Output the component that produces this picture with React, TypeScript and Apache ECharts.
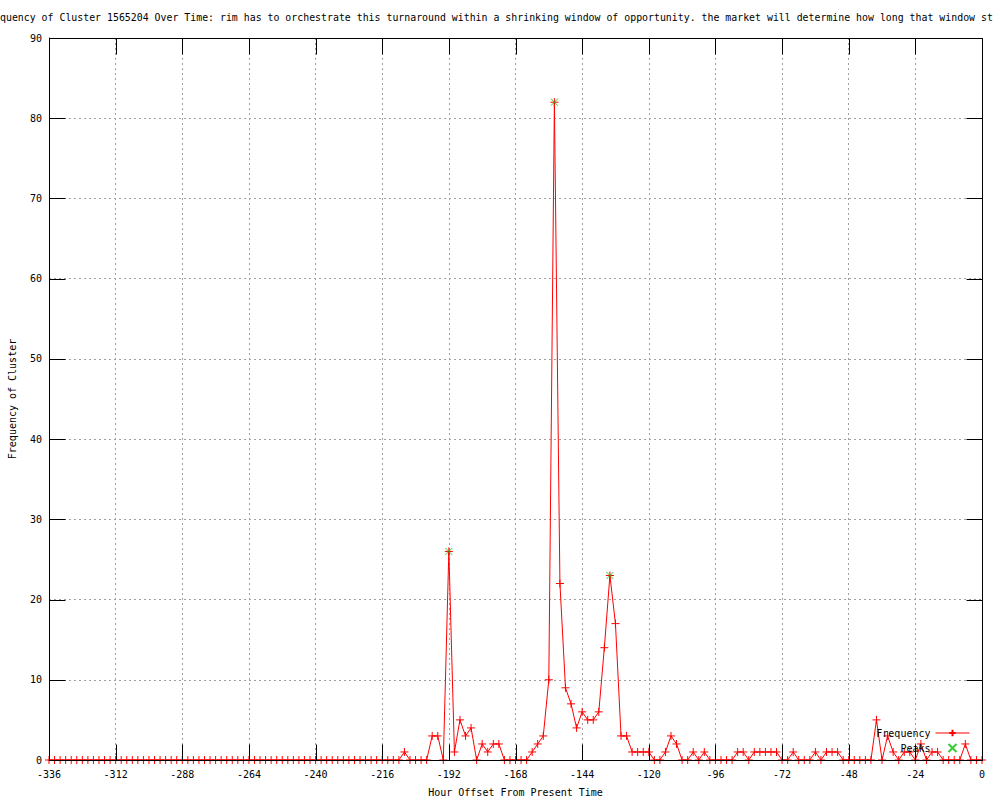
import React, { useEffect, useRef } from "react";
import * as echarts from "echarts";

const TITLE =
  "quency of Cluster 1565204 Over Time: rim has to orchestrate this turnaround within a shrinking window of opportunity. the market will determine how long that window st";
const X_NAME = "Hour Offset From Present Time";
const Y_NAME = "Frequency of Cluster";

const hours = [
  -336, -334, -332, -330, -328, -326, -324, -322, -320, -318, -316, -314, -312,
  -310, -308, -306, -304, -302, -300, -298, -296, -294, -292, -290, -288, -286,
  -284, -282, -280, -278, -276, -274, -272, -270, -268, -266, -264, -262, -260,
  -258, -256, -254, -252, -250, -248, -246, -244, -242, -240, -238, -236, -234,
  -232, -230, -228, -226, -224, -222, -220, -218, -216, -214, -212, -210, -208,
  -206, -204, -202, -200, -198, -196, -194, -192, -190, -188, -186, -184, -182,
  -180, -178, -176, -174, -172, -170, -168, -166, -164, -162, -160, -158, -156,
  -154, -152, -150, -148, -146, -144, -142, -140, -138, -136, -134, -132, -130,
  -128, -126, -124, -122, -120, -118, -116, -114, -112, -110, -108, -106, -104,
  -102, -100, -98, -96, -94, -92, -90, -88, -86, -84, -82, -80, -78, -76, -74,
  -72, -70, -68, -66, -64, -62, -60, -58, -56, -54, -52, -50, -48, -46, -44,
  -42, -40, -38, -36, -34, -32, -30, -28, -26, -24, -22, -20, -18, -16, -14,
  -12, -10, -8, -6, -4, -2, 0,
];

const frequency = [
  // -336 .. -210
  0, 0, 0, 0, 0, 0, 0, 0, 0, 0, 0, 0, 0, 0, 0, 0, 0, 0, 0, 0, 0, 0, 0, 0, 0, 0,
  0, 0, 0, 0, 0, 0, 0, 0, 0, 0, 0, 0, 0, 0, 0, 0, 0, 0, 0, 0, 0, 0, 0, 0, 0, 0,
  0, 0, 0, 0, 0, 0, 0, 0, 0, 0, 0, 0,
  // -208 .. -194
  1, 0, 0, 0, 0, 3, 3, 0,
  // -192 .. -164
  26, 1, 5, 3, 4, 0, 2, 1, 2, 2, 0, 0, 0, 0, 0,
  // -162 .. -120
  1, 2, 3, 10, 82, 22, 9, 7, 4, 6, 5, 5, 6, 14, 23, 17, 3, 3, 1, 1, 1, 1,
  // -118 .. -72
  0, 0, 1, 3, 2, 0, 0, 1, 0, 1, 0, 0, 0, 0, 0, 1, 1, 0, 1, 1, 1, 1, 1, 0,
  // -70 .. -40
  0, 1, 0, 0, 0, 1, 0, 1, 1, 1, 0, 0, 0, 0, 0, 0,
  // -38 .. 0
  5, 0, 3, 1, 0, 1, 1, 0, 2, 0, 1, 1, 0, 0, 0, 0, 2, 0, 0, 0,
];

const peakHours = [-192, -154, -134];
const peakValues = [26, 82, 23];

const xTickValues = [-336, -312, -288, -264, -240, -216, -192, -168, -144, -120, -96, -72, -48, -24, 0];
const yTickValues = [0, 10, 20, 30, 40, 50, 60, 70, 80, 90];

const xTicks = { min: -336, max: 0, interval: 24 };
const yTicks = { min: 0, max: 90, interval: 10 };

const FONT = "DejaVu Sans Mono";

export default function App() {
  const ref = useRef<HTMLDivElement>(null);
  useEffect(() => {
    if (!ref.current) return;
    const chart = echarts.init(ref.current, null, { renderer: "svg" });
    const txt = { fontFamily: FONT, fontSize: 10, color: "#000" };
    const freqData = hours.map((h, i) => [h, frequency[i]]);
    const peakData = peakHours.map((h, i) => [h, peakValues[i]]);
    const dashed = { color: "#a0a0a0", width: 1, type: [2, 3] as any };
    chart.setOption({
      animation: false,
      backgroundColor: "#fff",
      title: {
        text: TITLE,
        left: 0,
        top: 12,
        padding: 0,
        textStyle: { ...txt, fontSize: 9.9, fontWeight: "normal" },
      },
      grid: {
        left: 49,
        top: 38,
        right: 18,
        bottom: 40,
        containLabel: false,
        outerBoundsMode: "none",
      },
      legend: {
        data: ["Frequency", "Peaks"],
        orient: "vertical",
        right: 30,
        top: 728,
        align: "right",
        itemWidth: 34,
        itemHeight: 8,
        itemGap: 5,
        padding: 0,
        textStyle: txt,
        lineStyle: { width: 1 },
      },
      xAxis: {
        type: "value",
        position: "bottom",
        ...xTicks,
        name: X_NAME,
        nameLocation: "middle",
        nameGap: 27,
        nameTextStyle: txt,
        axisLine: { show: true, onZero: false, lineStyle: { color: "#000", width: 1 } },
        axisTick: { show: false },
        axisLabel: { ...txt, margin: 9, showMinLabel: true, showMaxLabel: true },
        splitLine: { show: true, lineStyle: dashed },
      },
      yAxis: {
        type: "value",
        position: "left",
        ...yTicks,
        name: Y_NAME,
        nameLocation: "middle",
        nameGap: 32,
        nameRotate: 90,
        nameTextStyle: txt,
        axisLine: { show: true, onZero: false, lineStyle: { color: "#000", width: 1 } },
        axisTick: { show: false },
        axisLabel: { ...txt, margin: 7 },
        splitLine: { show: true, lineStyle: dashed },
      },
      series: [
        {
          name: "Frequency",
          type: "line",
          data: freqData,
          showSymbol: true,
          showAllSymbol: true,
          symbol: "path://M4,0L4,8M0,4L8,4",
          symbolSize: 8,
          clip: false,
          lineStyle: { color: "#ff0000", width: 1 },
          itemStyle: { color: "#ff0000", borderColor: "#ff0000", borderWidth: 1 },
          emphasis: { disabled: true },
          z: 3,
        },
        {
          name: "Peaks",
          type: "scatter",
          data: peakData,
          symbol: "path://M0,0L8,8M8,0L0,8",
          symbolSize: 7,
          itemStyle: { color: "#00c000", borderColor: "#00c000", borderWidth: 1 },
          emphasis: { disabled: true },
          z: 4,
        },
      ],
    });

    // frame and gnuplot-style inward ticks, positioned through the chart's own scales
    const px = (v: number) => Math.round(chart.convertToPixel({ xAxisIndex: 0 }, v)) + 0.5;
    const py = (v: number) => Math.round(chart.convertToPixel({ yAxisIndex: 0 }, v)) + 0.5;
    const xL = px(xTicks.min);
    const xR = px(xTicks.max);
    const yB = py(yTicks.min);
    const yT = py(yTicks.max);
    const stroke = { stroke: "#000", lineWidth: 1 };
    const TL = 16;
    const els: any[] = [
      {
        type: "rect",
        shape: { x: xL, y: yT, width: xR - xL, height: yB - yT },
        style: { fill: "none", ...stroke },
        z: 10,
        silent: true,
      },
    ];
    xTickValues.forEach((v) => {
      const x = px(v);
      els.push({ type: "line", shape: { x1: x, y1: yB, x2: x, y2: yB - TL }, style: stroke, z: 10, silent: true });
      els.push({ type: "line", shape: { x1: x, y1: yT, x2: x, y2: yT + TL }, style: stroke, z: 10, silent: true });
    });
    yTickValues.forEach((v) => {
      const y = py(v);
      els.push({ type: "line", shape: { x1: xL, y1: y, x2: xL + TL, y2: y }, style: stroke, z: 10, silent: true });
      els.push({ type: "line", shape: { x1: xR, y1: y, x2: xR - TL, y2: y }, style: stroke, z: 10, silent: true });
    });
    chart.setOption({ graphic: els });

    return () => chart.dispose();
  }, []);
  return (
    <div
      ref={ref}
      style={{ position: "absolute", left: 0, top: 0, width: 1000, height: 800 }}
    />
  );
}
